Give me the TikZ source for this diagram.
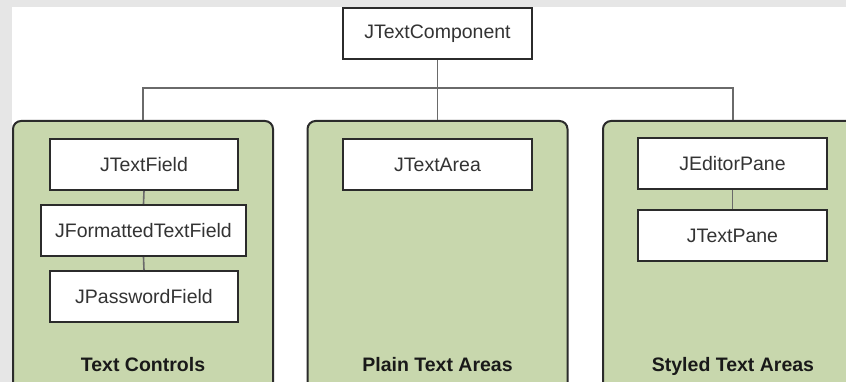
\documentclass[tikz,border=0pt]{standalone}
\usepackage{fontspec}
\setmainfont{Liberation Sans}
\usepackage{tikz}
\usetikzlibrary{positioning}

\definecolor{panelgreen}{HTML}{C8D7AD}
\definecolor{edgedark}{HTML}{2B2B2B}
\definecolor{linkgrey}{HTML}{6A6A6A}
\definecolor{framegrey}{HTML}{E6E6E6}

\begin{document}
\begin{tikzpicture}[x=1pt,y=-1pt,
		panel/.style={draw=edgedark,line width=2pt,fill=panelgreen,rounded corners=8pt,
			minimum width=260pt,minimum height=272pt,anchor=north,inner sep=0pt},
		classbox/.style={draw=edgedark,line width=2pt,fill=white,minimum width=188pt,
			minimum height=51pt,inner sep=2pt,text=black!80,font=\fontsize{19.5}{22}\selectfont},
		paneltitle/.style={anchor=base,font=\fontsize{19.5}{22}\selectfont\bfseries,text=black!90},
		link/.style={draw=linkgrey,line width=1.6pt}]
		\useasboundingbox (0,0) rectangle (846,382);
		\clip (0,0) rectangle (846,382);
		\fill[framegrey] (0,0) rectangle (846,382);
		\fill[white] (12,7) rectangle (846,382);

		% groups
		\node[panel] (controls) at (143,120) {};
		\node[panel] (plain) at (437.5,120) {};
		\node[panel] (styled) at (733,120) {};

		% classes
		\node[classbox,minimum width=189pt] (component) at (437.5,33.5) {JTextComponent};
		\node[classbox] (field) at (144,164.5) {JTextField};
		\node[classbox,minimum width=205pt] (formatted) at (143.5,230.5) {JFormattedTextField};
		\node[classbox] (password) at (144,296.5) {JPasswordField};
		\node[classbox,minimum width=189pt] (area) at (437.5,164.5) {JTextArea};
		\node[classbox,minimum width=189pt] (editor) at (732.5,164) {JEditorPane};
		\node[classbox,minimum width=189pt] (pane) at (732.5,235.5) {JTextPane};

		\node[paneltitle] (controlstitle) at (143,371) {Text Controls};
		\node[paneltitle] (plaintitle) at (437.5,371) {Plain Text Areas};
		\node[paneltitle] (styledtitle) at (733,371) {Styled Text Areas};

		% links
		\coordinate (bus) at (437.5,88);
		\draw[link] (component.south) -- (plain.north);
		\draw[link] (controls.north) |- (bus) -| (styled.north);
		\draw[link] (field.south) -- (formatted.north);
		\draw[link] (formatted.south) -- (password.north);
		\draw[link] (editor.south) -- (pane.north);
	\end{tikzpicture}
\end{document}
